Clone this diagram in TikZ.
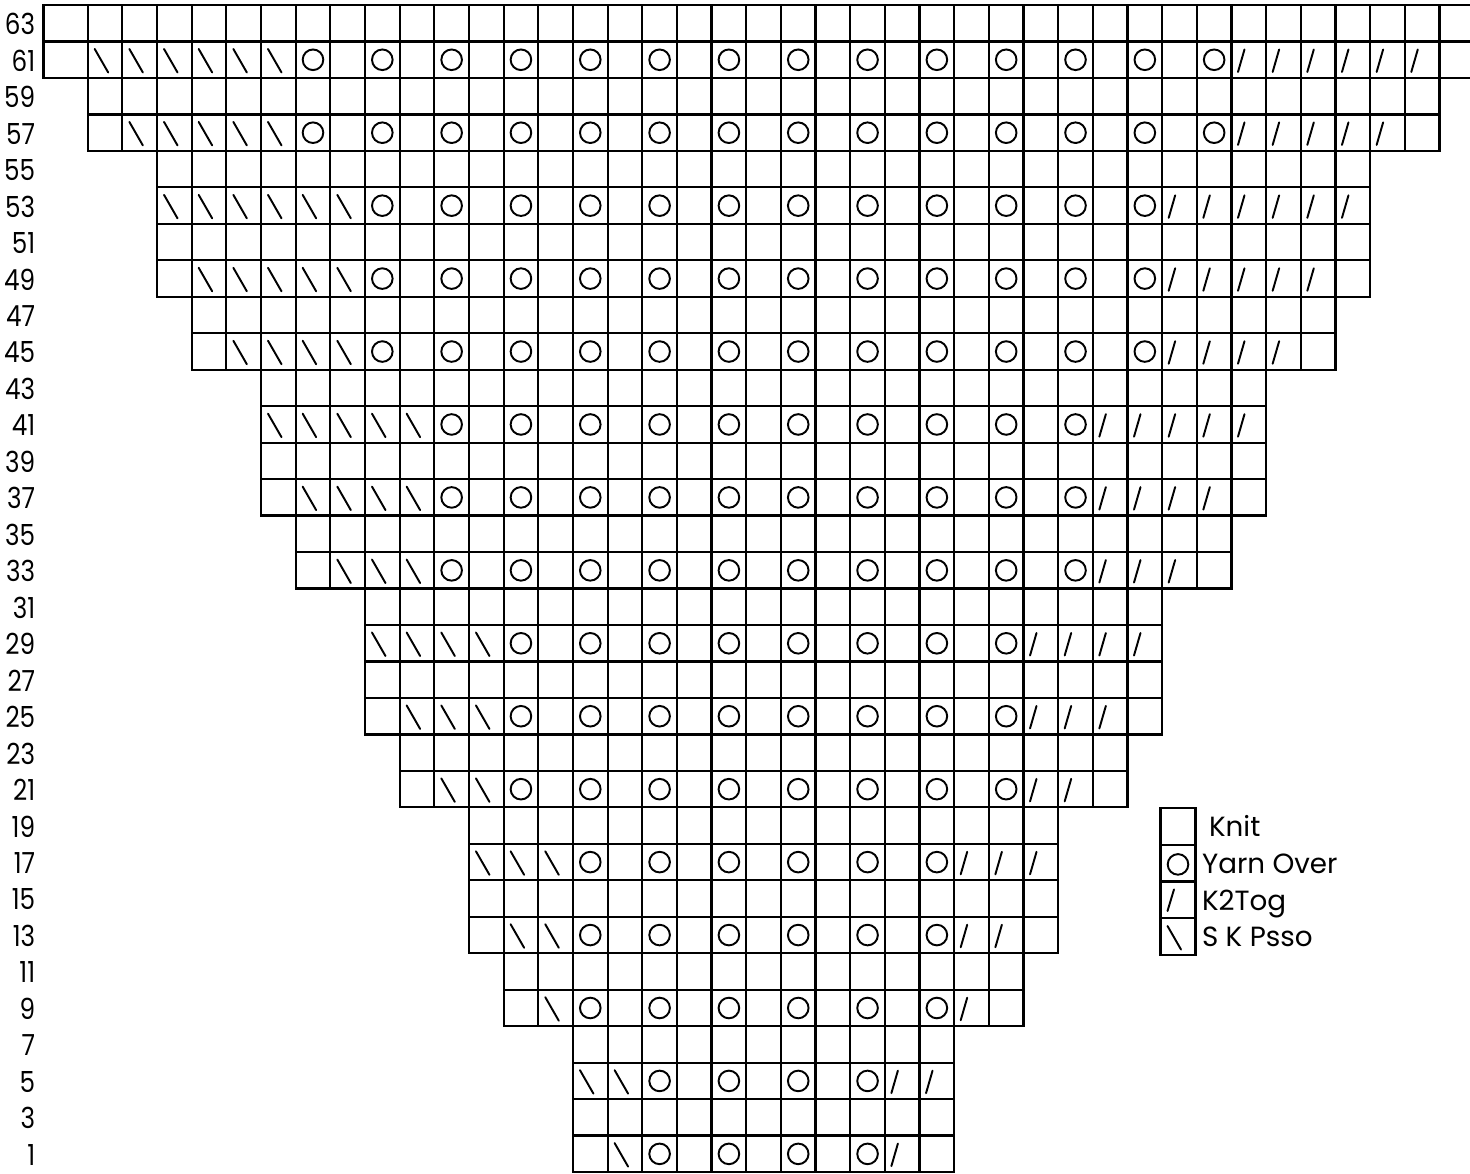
\documentclass[tikz,border=0pt]{standalone}
\usepackage{fontspec}
\setmainfont{Poppins}
\newfontfamily\numfont[FakeStretch=0.85]{Poppins}
\tikzset{
  gridline/.style={line width=1.25pt, black},
  symline/.style={line width=1.1pt, black, line cap=round},
  rowlab/.style={anchor=east, inner sep=0pt, font=\numfont\fontsize{16.5}{18}\selectfont},
  legtext/.style={anchor=base west, inner sep=0pt, font=\fontsize{15.8}{18}\selectfont},
}
\newcommand\kcGrid[3]{%
  \pgfmathsetmacro\kcYt{5+(63-#1)/2*36.47}%
  \pgfmathsetmacro\kcYb{\kcYt+36.47}%
  \foreach \k in {#2,...,#3}{%
    \pgfmathsetmacro\kcXl{\k<1 ? 43.5 : 87.7+(\k-1)*34.66}%
    \pgfmathsetmacro\kcXr{87.7+\k*34.66}%
    \draw[gridline] (\kcXl,\kcYt) rectangle (\kcXr,\kcYb);
  }%
}
\newcommand\kcPos[2]{\pgfmathsetmacro\kcY{5+(63-#1)/2*36.47}\pgfmathsetmacro\kcX{87.7+(#2-1)*34.66}}
\newcommand\kcBs[2]{\kcPos{#1}{#2}\draw[symline] (\kcX+7,\kcY+7.5) -- (\kcX+20.5,\kcY+31);}
\newcommand\kcFs[2]{\kcPos{#1}{#2}\draw[symline] (\kcX+6.5,\kcY+30.5) -- (\kcX+13,\kcY+8);}
\newcommand\kcYo[2]{\kcPos{#1}{#2}\draw[symline] (\kcX+17.33,\kcY+18.3) circle[radius=10.3];}
\newcommand\kcSym[9]{%
  \kcGrid{#1}{#2}{#3}%
  \foreach \k in {#4,...,#5}{\kcBs{#1}{\k}}%
  \foreach \k in {#6,...,#7}{\ifodd\k\relax\kcYo{#1}{\k}\fi}%
  \foreach \k in {#8,...,#9}{\kcFs{#1}{\k}}%
}
\begin{document}
\begin{tikzpicture}[x=0.02cm,y=-0.02cm]
\fill[white] (0,0) rectangle (1470,1173);
\useasboundingbox (0,0) rectangle (1470,1173);
\begin{scope}
\clip (0,0) rectangle (1470,1173);
% plain rows
\kcGrid{63}{0}{40}
\kcGrid{59}{1}{39}
\kcGrid{55}{3}{37}
\kcGrid{51}{3}{37}
\kcGrid{47}{4}{36}
\kcGrid{43}{6}{34}
\kcGrid{39}{6}{34}
\kcGrid{35}{7}{33}
\kcGrid{31}{9}{31}
\kcGrid{27}{9}{31}
\kcGrid{23}{10}{30}
\kcGrid{19}{12}{28}
\kcGrid{15}{12}{28}
\kcGrid{11}{13}{27}
\kcGrid{7}{15}{25}
\kcGrid{3}{15}{25}
% pattern rows: row, first, last, \ from-to, O from-to, / from-to
\kcSym{61}{0}{40}{1}{6}{7}{33}{34}{39}
\kcSym{57}{1}{39}{2}{6}{7}{33}{34}{38}
\kcSym{53}{3}{37}{3}{8}{9}{31}{32}{37}
\kcSym{49}{3}{37}{4}{8}{9}{31}{32}{36}
\kcSym{45}{4}{36}{5}{8}{9}{31}{32}{35}
\kcSym{41}{6}{34}{6}{10}{11}{29}{30}{34}
\kcSym{37}{6}{34}{7}{10}{11}{29}{30}{33}
\kcSym{33}{7}{33}{8}{10}{11}{29}{30}{32}
\kcSym{29}{9}{31}{9}{12}{13}{27}{28}{31}
\kcSym{25}{9}{31}{10}{12}{13}{27}{28}{30}
\kcSym{21}{10}{30}{11}{12}{13}{27}{28}{29}
\kcSym{17}{12}{28}{12}{14}{15}{25}{26}{28}
\kcSym{13}{12}{28}{13}{14}{15}{25}{26}{27}
\kcSym{9}{13}{27}{14}{14}{15}{25}{26}{26}
\kcSym{5}{15}{25}{15}{16}{17}{23}{24}{25}
\kcSym{1}{15}{25}{16}{16}{17}{23}{24}{24}
\end{scope}
% row numbers
\foreach \r in {1,3,...,63}{
  \node[rowlab] (lab\r) at (35.5, {5+(63-\r)/2*36.47+18.2+1}) {\r};
}
% legend
\foreach \i in {0,1,2,3}{
  \draw[gridline] (1160.5,{808+\i*36.7}) rectangle (1195.5,{808+(\i+1)*36.7});
}
\draw[symline] (1178,864.4) circle[radius=10.3];
\draw[symline] (1167.5,911) -- (1174,889.4);
\draw[symline] (1167.5,926) -- (1181,949.5);
\node[legtext] (lknit) at (1208.7,836.7) {Knit};
\node[legtext] (lyo) at (1201.7,873.3) {Yarn Over};
\node[legtext] (lk2) at (1201.7,910.3) {K2Tog};
\node[legtext] (lsk) at (1201.7,946.7) {S K Psso};
\end{tikzpicture}
\end{document}
